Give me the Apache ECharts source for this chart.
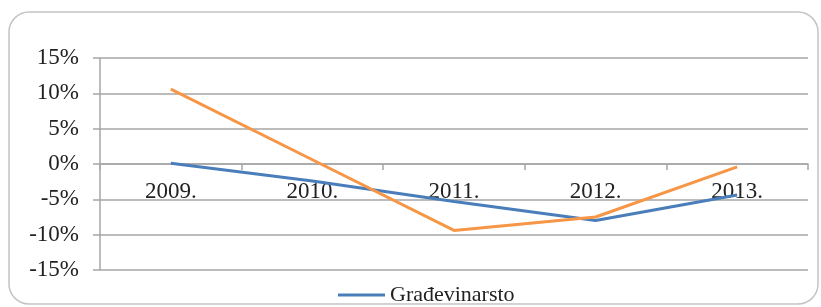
<!DOCTYPE html>
<html>
<head>
<meta charset="utf-8">
<script src="https://cdn.jsdelivr.net/npm/echarts@6/dist/echarts.min.js"></script>
<style>
  html, body { margin: 0; padding: 0; background: #fff; }
  #chart { width: 821px; height: 307px; }
</style>
</head>
<body>
<div id="chart"></div>
<script>
// godine
const years = ["2009.", "2010.", "2011.", "2012.", "2013."];
// Građevinarsto (plava linija)
const gradevinarstvo = [0.1, -2.4, -5.3, -8.0, -4.4];
// druga serija (narančasta), bez legende
const drugaSerija = [10.6, 0.6, -9.4, -7.5, -0.4];

const serif = "'Liberation Serif', 'DejaVu Serif', serif";
const gridColor = "#a6a6a6";

const chart = echarts.init(document.getElementById("chart"));
chart.setOption({
  animation: false,
  graphic: [
    {
      type: "rect",
      shape: { x: 9, y: 12, width: 809, height: 292, r: 20 },
      style: { fill: "none", stroke: "#c4c4c4", lineWidth: 1.5 },
      silent: true
    }
  ],
  grid: { left: 100, right: 13, top: 58, bottom: 37 },
  legend: {
    data: ["Građevinarsto"],
    left: 333,
    top: 279,
    icon: "rect",
    itemWidth: 47,
    itemHeight: 3,
    itemGap: 4,
    textStyle: { fontFamily: serif, fontSize: 22, color: "#222" }
  },
  xAxis: {
    type: "category",
    data: years,
    boundaryGap: true,
    // os kategorija prolazi kroz 0% (sredina mreže)
    offset: -106,
    axisLine: { onZero: false, lineStyle: { color: gridColor, width: 1.5 } },
    axisTick: { show: true, length: 6, lineStyle: { color: gridColor, width: 1.5 } },
    axisLabel: { fontFamily: serif, fontSize: 23, color: "#222", margin: 16 }
  },
  yAxis: {
    type: "value",
    min: -15,
    max: 15,
    interval: 5,
    axisLine: { show: true, lineStyle: { color: gridColor, width: 1.5 } },
    axisTick: { show: true, length: 7, lineStyle: { color: gridColor, width: 1.5 } },
    splitLine: { lineStyle: { color: gridColor, width: 1.5 } },
    axisLabel: {
      formatter: "{value}%",
      fontFamily: serif,
      fontSize: 23,
      color: "#222",
      margin: 21
    }
  },
  series: [
    {
      name: "Građevinarsto",
      type: "line",
      data: gradevinarstvo,
      symbol: "none",
      lineStyle: { color: "#4a7ebb", width: 3 },
      itemStyle: { color: "#4a7ebb" }
    },
    {
      name: "Ostalo",
      type: "line",
      data: drugaSerija,
      symbol: "none",
      lineStyle: { color: "#f79646", width: 3 },
      itemStyle: { color: "#f79646" }
    }
  ]
});
</script>
</body>
</html>
